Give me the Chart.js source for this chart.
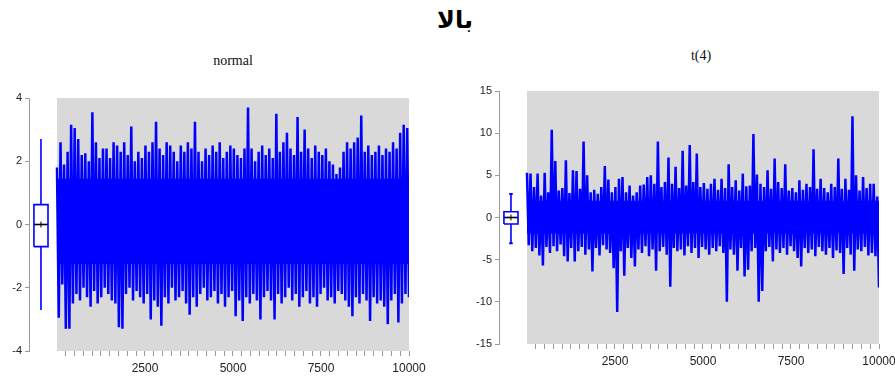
<!DOCTYPE html>
<html><head><meta charset="utf-8">
<script src="https://cdn.jsdelivr.net/npm/chart.js@4/dist/chart.umd.min.js"></script>
<style>
body{margin:0;width:895px;height:376px;background:#fff;position:relative;overflow:hidden}
.c{position:absolute;top:0;width:440px;height:376px}
#title{position:absolute;left:0;width:910px;top:6px;text-align:center;font:bold 24px "DejaVu Sans",sans-serif;color:#000}
.sub{position:absolute;font:14px "Liberation Serif",serif;color:#111;transform:translateX(-50%)}
</style></head><body>
<div id="title" dir="rtl">بالا</div>
<div class="sub" style="left:233px;top:53px">normal</div>
<div class="sub" style="left:701px;top:48px">t(4)</div>
<div class="c" style="left:0"><canvas id="c1" width="440" height="376"></canvas></div>
<div class="c" style="left:470px"><canvas id="c2" width="440" height="376"></canvas></div>
<script>
const sampleCount = 10000;
const xTickLabels = [2500, 5000, 7500, 10000];
const normalTicks = [-4, -2, 0, 2, 4];
const t4Ticks = [-15, -10, -5, 0, 5, 10, 15];

const normalHigh = [1.8,2.6,1.9,2.3,3.15,3.05,2.7,2.2,2.25,2.0,3.55,2.6,2.1,2.4,2.4,2.1,2.6,2.5,2.3,2.6,
  2.2,3.1,2.0,2.3,2.1,2.5,2.3,2.6,3.25,2.4,2.2,2.6,2.5,2.3,2.0,2.5,2.3,2.6,2.4,3.25,
  2.3,2.0,2.4,2.2,2.5,2.3,2.6,2.1,2.3,2.5,2.4,2.2,2.1,2.4,3.7,2.4,2.0,2.3,2.5,2.2,
  2.4,2.1,3.5,2.3,2.6,2.9,2.4,2.2,3.4,2.3,3.0,2.4,2.1,2.5,2.3,2.2,2.4,2.0,1.9,1.6,
  1.8,2.3,2.6,2.4,2.6,2.75,3.45,2.3,2.5,2.2,2.3,2.5,2.2,2.4,2.3,2.6,2.4,2.9,3.15,3.05];
const normalLow = [-2.95,-1.9,-3.3,-3.3,-2.5,-2.2,-2.4,-2.0,-2.3,-2.6,-2.1,-2.5,-2.3,-2.0,-2.2,-2.4,-2.5,-3.25,-3.3,-2.2,
  -2.0,-2.4,-2.1,-2.3,-2.5,-2.2,-3.0,-2.4,-2.6,-3.2,-2.3,-2.5,-2.0,-2.4,-2.3,-2.1,-2.5,-2.85,-2.3,-2.6,
  -2.2,-2.0,-2.4,-2.3,-2.1,-2.5,-2.2,-2.6,-2.3,-2.1,-2.9,-2.4,-3.05,-2.3,-2.5,-2.2,-2.4,-3.0,-2.3,-2.1,
  -2.4,-3.0,-2.2,-2.5,-2.3,-2.0,-2.4,-2.2,-2.6,-2.3,-2.1,-2.5,-2.3,-2.6,-2.2,-2.0,-2.4,-2.3,-2.5,-2.1,
  -2.2,-2.4,-2.6,-2.9,-2.3,-2.5,-2.2,-2.4,-3.05,-2.3,-2.5,-2.4,-2.6,-3.15,-2.4,-2.2,-3.1,-2.5,-2.2,-2.3];
const t4High = [5.3,5.2,3.6,5.2,2.6,5.3,3.0,10.4,6.7,3.2,3.5,6.8,2.9,5.6,5.5,3.4,9.0,5.0,3.0,3.3,
  2.8,3.6,6.1,4.5,3.0,3.6,4.6,4.8,3.0,3.8,2.6,3.0,3.8,3.9,4.8,5.0,4.0,9.0,3.6,4.2,
  7.1,4.0,6.0,3.5,7.9,3.8,8.6,4.2,7.6,3.6,4.1,3.4,4.0,4.6,3.3,4.6,3.5,6.3,3.6,4.4,
  3.2,5.2,3.7,3.8,9.9,5.1,4.0,3.6,5.6,3.4,7.0,4.2,3.5,6.3,3.2,3.5,3.0,4.4,3.3,4.0,
  3.6,8.1,3.4,4.6,3.5,3.0,4.0,3.6,7.0,3.4,4.6,3.3,12.0,5.0,3.2,4.8,3.5,4.0,4.0,2.5];
const t4Low = [-3.3,-4.0,-3.6,-4.5,-5.7,-3.5,-4.2,-3.4,-4.0,-3.2,-4.6,-5.2,-3.6,-5.2,-4.0,-3.5,-4.4,-3.8,-6.4,-3.6,
  -4.5,-3.3,-3.8,-4.2,-6.0,-11.2,-4.0,-6.9,-3.6,-4.8,-5.8,-3.8,-4.2,-3.4,-4.6,-3.8,-6.3,-4.0,-3.5,-4.4,
  -8.2,-3.6,-4.0,-3.8,-4.5,-3.4,-4.2,-3.6,-4.8,-3.5,-3.8,-4.4,-3.6,-4.0,-3.4,-4.2,-10.0,-3.8,-4.4,-6.3,
  -3.6,-7.0,-6.2,-4.0,-3.6,-10.0,-8.7,-4.0,-3.5,-5.2,-3.8,-4.2,-3.6,-4.4,-3.4,-4.0,-4.8,-5.8,-3.6,-4.2,
  -3.8,-4.6,-3.5,-4.0,-4.4,-3.6,-4.8,-3.9,-4.2,-6.7,-3.6,-4.4,-6.3,-3.8,-4.0,-3.5,-4.5,-4.2,-4.6,-8.3];

// level of the solid (densely overplotted) band: [lower, upper]
const normalCore = [-1.25, 1.45];
const t4Core = [-1.9, 2.0];

// box plot summaries: [lower whisker, Q1, median, Q3, upper whisker], and mean
const normalBox = [-2.7, -0.7, 0, 0.63, 2.7];
const normalMean = 0;
const t4Box = [-3.06, -0.77, 0, 0.69, 2.79];
const t4Mean = 0;

// ---- drawing ----
const BLUE = '#0000ff';
const BOX_X = -455, BOX_HW = 200, X_MIN = -795;

function seriesPoints(high, low) {
  const n = high.length * 2 - 1, pts = [];
  for (let i = 0; i < high.length; i++) {
    pts.push({x: (2 * i) * sampleCount / n, y: high[i]});
    pts.push({x: (2 * i + 1) * sampleCount / n, y: low[i]});
  }
  return pts;
}

const grayBg = {
  id: 'grayBg',
  beforeDatasetsDraw(chart) {
    const {ctx, chartArea, scales} = chart;
    const x0 = scales.x.getPixelForValue(0), x1 = scales.x.getPixelForValue(sampleCount);
    ctx.save();
    ctx.fillStyle = '#d9d9d9';
    ctx.fillRect(x0, chartArea.top, x1 - x0, chartArea.bottom - chartArea.top);
    ctx.restore();
  }
};

function line(points, color, width, extra) {
  return Object.assign({type: 'line', data: points, borderColor: color, borderWidth: width,
    pointRadius: 0, fill: false, tension: 0}, extra || {});
}

function makePanel(id, high, low, core, box, mean, ticks, top, bottom, caps) {
  const [wl, q1, med, q3, wh] = box;
  const L = BOX_X - BOX_HW, R = BOX_X + BOX_HW;
  const ds = [
    line([{x: 0, y: core[1]}, {x: sampleCount, y: core[1]}], BLUE, 0, {fill: '+1', backgroundColor: BLUE}),
    line([{x: 0, y: core[0]}, {x: sampleCount, y: core[0]}], BLUE, 0),
    line(seriesPoints(high, low), BLUE, 2.5),
    line([{x: L, y: q1}, {x: R, y: q1}, {x: R, y: q3}, {x: L, y: q3}, {x: L, y: q1}], BLUE, 1.6),
    line([{x: BOX_X, y: q3}, {x: BOX_X, y: wh}], BLUE, 1.6),
    line([{x: BOX_X, y: q1}, {x: BOX_X, y: wl}], BLUE, 1.6),
    line([{x: L, y: med}, {x: R, y: med}], '#000', 1.6),
    line([{x: BOX_X, y: mean}], '#000', 1, {pointRadius: 3, pointStyle: 'cross', pointBorderColor: '#000', pointBorderWidth: 1}),
  ];
  if (caps) {
    ds.push(line([{x: BOX_X - 50, y: wh}, {x: BOX_X + 50, y: wh}], BLUE, 2));
    ds.push(line([{x: BOX_X - 50, y: wl}, {x: BOX_X + 50, y: wl}], BLUE, 2));
  }
  new Chart(document.getElementById(id), {
    type: 'line',
    data: {datasets: ds},
    plugins: [grayBg],
    options: {
      responsive: false, animation: false, events: [],
      layout: {padding: {left: 0, right: 31, top: top, bottom: bottom}},
      plugins: {legend: {display: false}, tooltip: {enabled: false}},
      scales: {
        x: {
          type: 'linear', min: X_MIN, max: sampleCount,
          afterFit(s) { s.height = 25; },
          afterBuildTicks(s) {
            const t = [];
            for (let v = 250; v <= sampleCount; v += 250) t.push({value: v});
            s.ticks = t;
          },
          border: {display: false},
          grid: {drawOnChartArea: false, drawTicks: true, tickLength: 5, color: '#9a9a9a'},
          ticks: {autoSkip: false, maxRotation: 0, padding: 5, color: '#222',
            font: {family: 'Liberation Sans', size: 12},
            callback: v => xTickLabels.includes(v) ? String(v) : ''}
        },
        y: {
          type: 'linear', min: ticks[0], max: ticks[ticks.length - 1],
          afterFit(s) { s.width = 29; },
          afterBuildTicks(s) { s.ticks = ticks.map(v => ({value: v})); },
          border: {display: true, color: '#9a9a9a'},
          grid: {drawOnChartArea: false, drawTicks: true, tickLength: 4, color: '#9a9a9a'},
          ticks: {padding: 3, color: '#222', font: {family: 'Liberation Sans', size: 11}}
        }
      }
    }
  });
}

makePanel('c1', normalHigh, normalLow, normalCore, normalBox, normalMean, normalTicks, 98, 0, false);
makePanel('c2', t4High, t4Low, t4Core, t4Box, t4Mean, t4Ticks, 91, 7, true);
</script>
</body></html>
